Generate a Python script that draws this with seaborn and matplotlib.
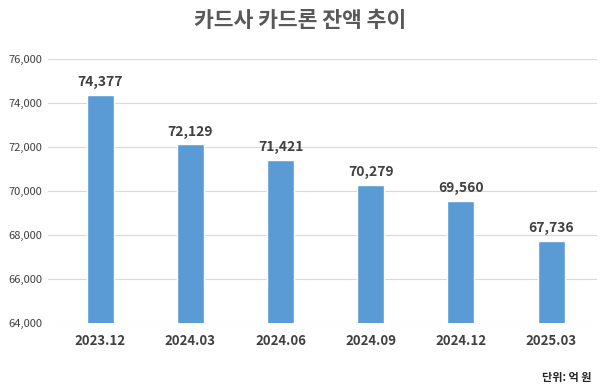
import matplotlib
matplotlib.use("Agg")
import matplotlib.pyplot as plt
import seaborn as sns
import pandas as pd
from matplotlib.ticker import FuncFormatter

periods = ["2023.12", "2024.03", "2024.06", "2024.09", "2024.12", "2025.03"]
balances = [74377, 72129, 71421, 70279, 69560, 67736]
y_ticks = [64000, 66000, 68000, 70000, 72000, 74000, 76000]

sns.set_style("white")
plt.rcParams['font.family'] = ['Noto Sans CJK KR', 'DejaVu Sans']

df = pd.DataFrame({"period": periods, "balance": balances})

fig = plt.figure(figsize=(6, 3.88), dpi=100)
ax = fig.add_axes([0.08, 0.167, 0.915, 0.681])

ax.yaxis.grid(True, color="#d9d9d9", linewidth=0.8)
ax.set_axisbelow(True)

sns.barplot(data=df, x="period", y="balance", color="#5b9bd5", width=0.3,
            saturation=1, ax=ax)
ax.set_ylim(64000, 76000)
ax.set_yticks(y_ticks)
ax.set_xlim(-0.58, len(periods) - 0.49)

for i, v in enumerate(balances):
    ax.text(i, v + 250, f"{v:,}", ha="center", va="bottom",
            fontsize=10, fontweight="bold", color="#404040")

ax.yaxis.set_major_formatter(FuncFormatter(lambda v, p: f"{int(v):,}"))
ax.tick_params(axis="y", labelsize=8, colors="#404040", length=0, pad=4)
ax.tick_params(axis="x", labelsize=9.5, colors="#404040", length=0, pad=8)
for lbl in ax.get_xticklabels():
    lbl.set_fontweight("bold")
ax.set_xlabel("")
ax.set_ylabel("")
for s in ax.spines.values():
    s.set_visible(False)

fig.text(0.5, 0.948, "카드사 카드론 잔액 추이", ha="center", va="center",
         fontsize=15.5, fontweight="bold", color="#595959")
fig.text(0.985, 0.028, "단위: 억 원", ha="right", va="center",
         fontsize=8, fontweight="bold", color="#262626")

fig.savefig("out.png", dpi=100)
